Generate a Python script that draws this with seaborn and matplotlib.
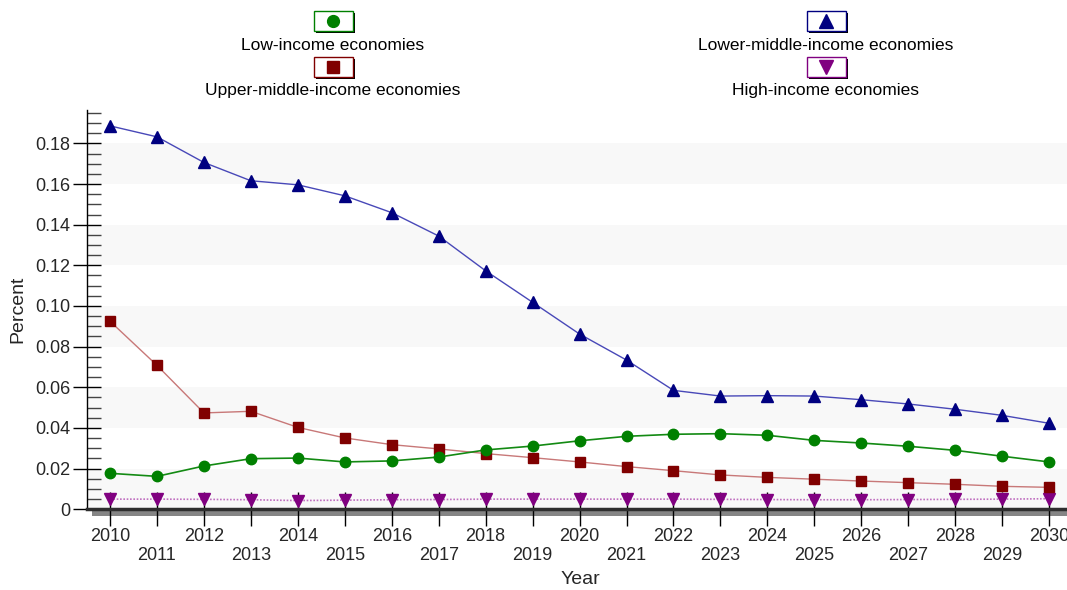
import numpy as np
import pandas as pd
import matplotlib
matplotlib.use("Agg")
import matplotlib.pyplot as plt
import seaborn as sns
from matplotlib.patches import Rectangle
from matplotlib.lines import Line2D
from matplotlib.ticker import MultipleLocator, FuncFormatter

years = list(range(2010, 2031))
low_income = [0.0177, 0.0162, 0.0213, 0.0249, 0.0252, 0.0233, 0.0238, 0.0257, 0.0292, 0.0311,
              0.0337, 0.0359, 0.0369, 0.0372, 0.0364, 0.0339, 0.0326, 0.0310, 0.0290, 0.0261, 0.0233]
lower_middle = [0.1886, 0.1832, 0.1706, 0.1616, 0.1596, 0.1542, 0.1459, 0.1344, 0.1173, 0.1018,
                0.0862, 0.0734, 0.0585, 0.0557, 0.0559, 0.0557, 0.0539, 0.0518, 0.0492, 0.0462, 0.0423]
upper_middle = [0.0925, 0.0708, 0.0474, 0.0482, 0.0403, 0.0351, 0.0318, 0.0297, 0.0274, 0.0254,
                0.0233, 0.0210, 0.0190, 0.0169, 0.0157, 0.0148, 0.0139, 0.0131, 0.0123, 0.0113, 0.0108]
high_income = [0.0050, 0.0050, 0.0049, 0.0047, 0.0043, 0.0045, 0.0047, 0.0048, 0.0050, 0.0050,
               0.0050, 0.0050, 0.0050, 0.0049, 0.0048, 0.0047, 0.0047, 0.0048, 0.0049, 0.0050, 0.0052]
series_names = ["Low-income economies", "Lower-middle-income economies",
                "Upper-middle-income economies", "High-income economies"]
x_label = "Year"
y_label = "Percent"

sns.set_theme(style="white")
plt.rcParams['font.family'] = ['Liberation Sans', 'DejaVu Sans']

W, H = 1067, 590
fig = plt.figure(figsize=(W / 100, H / 100), dpi=100)
fig.patch.set_facecolor("white")
y0_px, y1_px = 509.3, 110
x0_px, x1_px = 87, 1067
ax = fig.add_axes([x0_px / W, 1 - y0_px / H, (x1_px - x0_px) / W, (y0_px - y1_px) / H])
ax.set_facecolor("white")

# background bands
for lo in [0.0, 0.04, 0.08, 0.12, 0.16]:
    ax.axhspan(lo, lo + 0.02, color="#f8f8f8", zorder=0, lw=0)

df = pd.DataFrame({"Year": years, series_names[0]: low_income, series_names[1]: lower_middle,
                   series_names[2]: upper_middle, series_names[3]: high_income})

styles = {
    series_names[0]: dict(line="#138a13", mk="#008000", marker="o", ms=7.5, ls="-", lw=1.2),
    series_names[1]: dict(line="#4848b8", mk="#000080", marker="^", ms=9, ls="-", lw=1.0),
    series_names[2]: dict(line="#c87878", mk="#800000", marker="s", ms=7, ls="-", lw=1.0),
    series_names[3]: dict(line="#c070c0", mk="#800080", marker="v", ms=9, ls=(0, (1, 1)), lw=1.2),
}
for name in [series_names[3], series_names[2], series_names[0], series_names[1]]:
    st = styles[name]
    sns.lineplot(data=df, x="Year", y=name, ax=ax, color=st["line"], lw=st["lw"],
                 linestyle=st["ls"], zorder=3)
    ax.plot(df["Year"], df[name], ls="none", marker=st["marker"], ms=st["ms"],
            mfc=st["mk"], mec=st["mk"], zorder=4)

ax.set_xlim(2009.51, 2030.38)
ax.set_ylim(0, 0.1964)

for s in ["top", "right"]:
    ax.spines[s].set_visible(False)
ax.spines["left"].set_color("black")
ax.spines["left"].set_linewidth(1.0)
ax.spines["bottom"].set_color("#2e2e2e")
ax.spines["bottom"].set_linewidth(2.5)

# shadow under x axis
fig.add_artist(Rectangle((92 / W, 1 - 516 / H), 1.0, 5 / H, transform=fig.transFigure,
                         facecolor="#858585", edgecolor="none", zorder=-1))

ax.set_xticks(years)
labels = [str(y) if (y - 2010) % 2 == 0 else "\n" + str(y) for y in years]
ax.set_xticklabels(labels)
ax.tick_params(axis="x", direction="inout", length=25, width=1.0, color="black",
               labelsize=13, pad=1, bottom=True)
ax.yaxis.set_major_locator(MultipleLocator(0.02))
ax.yaxis.set_minor_locator(MultipleLocator(0.005))
ax.yaxis.set_major_formatter(FuncFormatter(lambda v, p: "0" if abs(v) < 1e-9 else f"{v:.2f}"))
ax.tick_params(axis="y", which="major", direction="inout", length=20, width=1.0, color="black",
               labelsize=13, pad=2, left=True)
ax.tick_params(axis="y", which="minor", direction="in", length=10, width=1.0, color="#444444", left=True)
for lab in ax.get_xticklabels():
    lab.set_linespacing(1.15)

ax.set_xlabel(x_label, fontsize=14, labelpad=0)
ax.set_ylabel(y_label, fontsize=14, labelpad=6)
ax.xaxis.set_label_coords((580 - x0_px) / (x1_px - x0_px), -(580 - y0_px) / (y0_px - y1_px))
ax.xaxis.label.set_va("center")

# custom legend
legend_items = [
    (series_names[0], 333, 21, 45),
    (series_names[1], 826, 21, 45),
    (series_names[2], 333, 67, 90),
    (series_names[3], 826, 67, 90),
]
bw, bh = 39, 19
for name, cx, cy, ty in legend_items:
    st = styles[name]
    fig.add_artist(Rectangle(((cx - bw / 2 + 2) / W, 1 - (cy + bh / 2 + 2) / H), bw / W, bh / H,
                             transform=fig.transFigure, facecolor="black", edgecolor="none", zorder=5))
    fig.add_artist(Rectangle(((cx - bw / 2) / W, 1 - (cy + bh / 2) / H), bw / W, bh / H,
                             transform=fig.transFigure, facecolor="white", edgecolor=st["mk"],
                             lw=1.0, zorder=6))
    fig.add_artist(Line2D([cx / W], [1 - cy / H], transform=fig.transFigure, ls="none",
                          marker=st["marker"], ms=st["ms"] + 1, mfc=st["mk"], mec=st["mk"], zorder=7))
    fig.text(cx / W, 1 - ty / H, name, ha="center", va="center", fontsize=12.5, color="black")

fig.savefig("out.png", dpi=100)
